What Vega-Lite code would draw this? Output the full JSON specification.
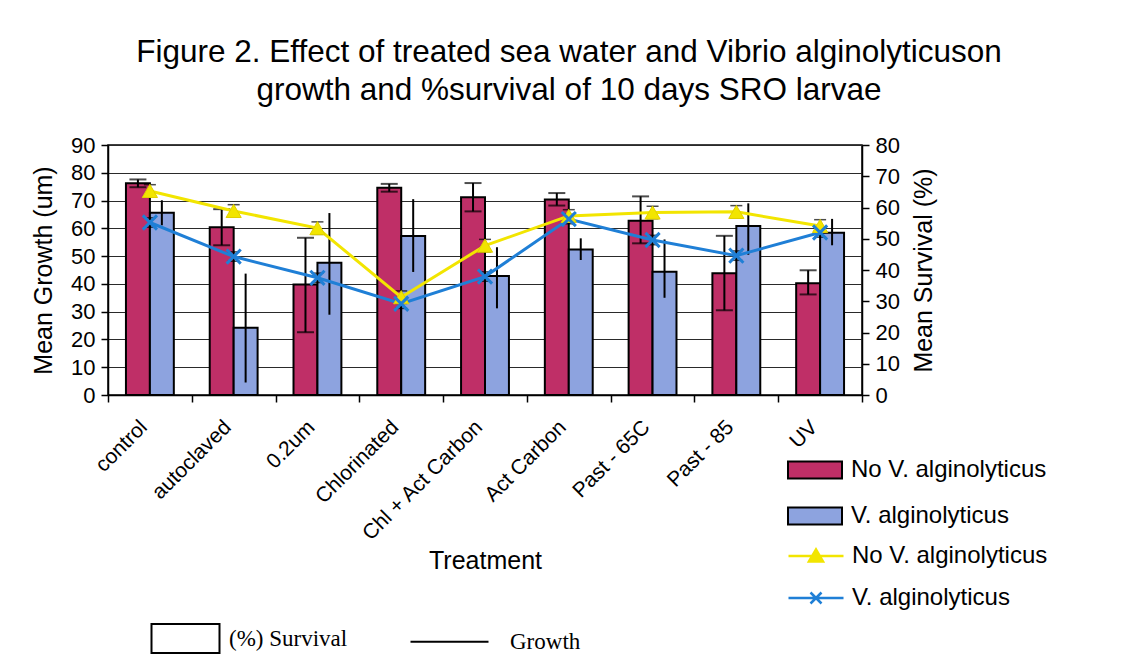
{
  "$schema": "https://vega.github.io/schema/vega-lite/v6.json",
  "width": 754,
  "height": 250,
  "autosize": {"type": "none"},
  "padding": {"left": 108, "top": 145, "right": 264, "bottom": 274},
  "background": "white",
  "title": {
    "text": ["Figure 2.  Effect of treated sea water and Vibrio alginolyticuson", "growth and %survival of 10 days SRO larvae"],
    "fontSize": 31.5,
    "fontWeight": "normal",
    "color": "black",
    "anchor": "middle",
    "dx": 84,
    "lineHeight": 38,
    "offset": 28
  },
  "datasets": {
    "bars": [
      {"treatment": "control", "cond": "No V. alginolyticus", "value": 76.2, "lo": 74.8, "hi": 77.6},
      {"treatment": "control", "cond": "V. alginolyticus", "value": 65.6, "lo": 61.1, "hi": 70.1},
      {"treatment": "autoclaved", "cond": "No V. alginolyticus", "value": 60.4, "lo": 53.9, "hi": 66.9},
      {"treatment": "autoclaved", "cond": "V. alginolyticus", "value": 24.2, "lo": 4.5, "hi": 43.7},
      {"treatment": "0.2um", "cond": "No V. alginolyticus", "value": 39.8, "lo": 22.6, "hi": 56.6},
      {"treatment": "0.2um", "cond": "V. alginolyticus", "value": 47.6, "lo": 28.9, "hi": 65.5},
      {"treatment": "Chlorinated", "cond": "No V. alginolyticus", "value": 74.6, "lo": 73.2, "hi": 76.0},
      {"treatment": "Chlorinated", "cond": "V. alginolyticus", "value": 57.2, "lo": 44.3, "hi": 70.5},
      {"treatment": "Chl + Act Carbon", "cond": "No V. alginolyticus", "value": 71.2, "lo": 66.1, "hi": 76.3},
      {"treatment": "Chl + Act Carbon", "cond": "V. alginolyticus", "value": 42.8, "lo": 31.2, "hi": 53.2},
      {"treatment": "Act Carbon", "cond": "No V. alginolyticus", "value": 70.4, "lo": 68.2, "hi": 72.7},
      {"treatment": "Act Carbon", "cond": "V. alginolyticus", "value": 52.4, "lo": 48.6, "hi": 56.4},
      {"treatment": "Past - 65C", "cond": "No V. alginolyticus", "value": 62.7, "lo": 54.6, "hi": 71.5},
      {"treatment": "Past - 65C", "cond": "V. alginolyticus", "value": 44.4, "lo": 35.0, "hi": 56.0},
      {"treatment": "Past - 85", "cond": "No V. alginolyticus", "value": 43.8, "lo": 30.5, "hi": 57.3},
      {"treatment": "Past - 85", "cond": "V. alginolyticus", "value": 60.8, "lo": 50.5, "hi": 69.0},
      {"treatment": "UV", "cond": "No V. alginolyticus", "value": 40.2, "lo": 36.2, "hi": 44.9},
      {"treatment": "UV", "cond": "V. alginolyticus", "value": 58.4, "lo": 53.9, "hi": 63.4}
    ],
    "lines": [
      {"treatment": "control", "series": "No V. alginolyticus", "value": 65.3, "lo": 63.3, "hi": 67.3},
      {"treatment": "autoclaved", "series": "No V. alginolyticus", "value": 58.9, "lo": 56.9, "hi": 60.9},
      {"treatment": "0.2um", "series": "No V. alginolyticus", "value": 53.4, "lo": 51.4, "hi": 55.4},
      {"treatment": "Chlorinated", "series": "No V. alginolyticus", "value": 31.3, "lo": 29.3, "hi": 33.3},
      {"treatment": "Chl + Act Carbon", "series": "No V. alginolyticus", "value": 47.8, "lo": 45.8, "hi": 49.8},
      {"treatment": "Act Carbon", "series": "No V. alginolyticus", "value": 57.3, "lo": 55.3, "hi": 59.3},
      {"treatment": "Past - 65C", "series": "No V. alginolyticus", "value": 58.4, "lo": 56.4, "hi": 60.4},
      {"treatment": "Past - 85", "series": "No V. alginolyticus", "value": 58.6, "lo": 56.6, "hi": 60.6},
      {"treatment": "UV", "series": "No V. alginolyticus", "value": 54.1, "lo": 52.1, "hi": 56.1},
      {"treatment": "control", "series": "V. alginolyticus", "value": 55.2, "lo": 53.7, "hi": 56.7},
      {"treatment": "autoclaved", "series": "V. alginolyticus", "value": 44.3, "lo": 42.8, "hi": 45.8},
      {"treatment": "0.2um", "series": "V. alginolyticus", "value": 37.5, "lo": 36.0, "hi": 39.0},
      {"treatment": "Chlorinated", "series": "V. alginolyticus", "value": 29.2, "lo": 27.7, "hi": 30.7},
      {"treatment": "Chl + Act Carbon", "series": "V. alginolyticus", "value": 37.9, "lo": 36.4, "hi": 39.4},
      {"treatment": "Act Carbon", "series": "V. alginolyticus", "value": 56.3, "lo": 54.8, "hi": 57.8},
      {"treatment": "Past - 65C", "series": "V. alginolyticus", "value": 49.6, "lo": 48.1, "hi": 51.1},
      {"treatment": "Past - 85", "series": "V. alginolyticus", "value": 44.6, "lo": 43.1, "hi": 46.1},
      {"treatment": "UV", "series": "V. alginolyticus", "value": 52.0, "lo": 50.5, "hi": 53.5}
    ],
    "linekeys": [
      {"series": "No V. alginolyticus"},
      {"series": "V. alginolyticus"}
    ],
    "notes": [
      {"note": "(%) Survival"},
      {"note": "Growth"}
    ]
  },
  "layer": [
    {
      "data": {"name": "bars"},
      "layer": [
        {
          "mark": {"type": "bar", "stroke": "black", "strokeWidth": 2},
          "encoding": {
            "x": {"field": "treatment", "type": "nominal", "sort": null,
                  "scale": {"domain": ["control", "autoclaved", "0.2um", "Chlorinated", "Chl + Act Carbon", "Act Carbon", "Past - 65C", "Past - 85", "UV"], "paddingInner": 0, "paddingOuter": 0},
                  "title": "Treatment"},
            "xOffset": {"field": "cond", "type": "nominal", "scale": {"domain": ["No V. alginolyticus", "V. alginolyticus"], "paddingInner": 0, "paddingOuter": 0.75}},
            "y": {"field": "value", "type": "quantitative", "scale": {"domain": [0, 90], "nice": false},
                  "axis": {"orient": "left", "title": "Mean Growth (um)", "values": [0, 10, 20, 30, 40, 50, 60, 70, 80, 90], "tickCount": 20, "labelOverlap": false, "grid": true, "gridColor": "#2a2a2a", "gridWidth": 1.2}},
            "fill": {"field": "cond", "type": "nominal",
                     "scale": {"range": ["#bf2f67", "#8da3df"]},
                     "legend": {"title": null, "orient": "none", "legendX": 695, "legendY": 313,
                                "symbolType": "M-2.7,-0.85H2.7V0.85H-2.7Z", "symbolSize": 400,
                                "symbolStrokeColor": "black", "symbolStrokeWidth": 2, "labelLimit": 400,
                                "labelOffset": 24, "rowPadding": 20, "labelFontSize": 24, "labelColor": "black"}}
          }
        },
        {
          "mark": {"type": "rule", "color": "black", "strokeWidth": 2},
          "encoding": {
            "x": {"field": "treatment", "type": "nominal", "sort": null},
            "xOffset": {"field": "cond", "type": "nominal"},
            "y": {"field": "lo", "type": "quantitative",
                  "axis": {"orient": "left", "title": "Mean Growth (um)", "values": [0, 10, 20, 30, 40, 50, 60, 70, 80, 90], "tickCount": 20, "labelOverlap": false, "grid": true, "gridColor": "#2a2a2a", "gridWidth": 1.2}},
            "y2": {"field": "hi"}
          }
        },
        {
          "transform": [{"filter": {"field": "cond", "equal": "No V. alginolyticus"}}],
          "mark": {"type": "tick", "color": "black", "thickness": 2, "size": 17},
          "encoding": {
            "x": {"field": "treatment", "type": "nominal", "sort": null},
            "xOffset": {"field": "cond", "type": "nominal"},
            "y": {"field": "lo", "type": "quantitative",
                  "axis": {"orient": "left", "title": "Mean Growth (um)", "values": [0, 10, 20, 30, 40, 50, 60, 70, 80, 90], "tickCount": 20, "labelOverlap": false, "grid": true, "gridColor": "#2a2a2a", "gridWidth": 1.2}}
          }
        },
        {
          "transform": [{"filter": {"field": "cond", "equal": "No V. alginolyticus"}}],
          "mark": {"type": "tick", "color": "black", "thickness": 2, "size": 17},
          "encoding": {
            "x": {"field": "treatment", "type": "nominal", "sort": null},
            "xOffset": {"field": "cond", "type": "nominal"},
            "y": {"field": "hi", "type": "quantitative",
                  "axis": {"orient": "left", "title": "Mean Growth (um)", "values": [0, 10, 20, 30, 40, 50, 60, 70, 80, 90], "tickCount": 20, "labelOverlap": false, "grid": true, "gridColor": "#2a2a2a", "gridWidth": 1.2}}
          }
        }
      ]
    },
    {
      "data": {"name": "lines"},
      "layer": [
        {
          "mark": {"type": "rule", "color": "black", "strokeWidth": 1.5},
          "encoding": {
            "x": {"field": "treatment", "type": "nominal", "sort": null},
            "y": {"field": "lo", "type": "quantitative", "scale": {"domain": [0, 80], "nice": false},
                  "axis": {"orient": "right", "title": "Mean Survival (%)", "values": [0, 10, 20, 30, 40, 50, 60, 70, 80], "tickCount": 20, "labelOverlap": false, "grid": false, "titleAngle": 270, "titleBaseline": "top"}},
            "y2": {"field": "hi"}
          }
        },
        {
          "mark": {"type": "tick", "color": "black", "thickness": 1.5, "size": 12},
          "encoding": {
            "x": {"field": "treatment", "type": "nominal", "sort": null},
            "y": {"field": "lo", "type": "quantitative",
                  "axis": {"orient": "right", "title": "Mean Survival (%)", "values": [0, 10, 20, 30, 40, 50, 60, 70, 80], "tickCount": 20, "labelOverlap": false, "grid": false, "titleAngle": 270, "titleBaseline": "top"}}
          }
        },
        {
          "mark": {"type": "tick", "color": "black", "thickness": 1.5, "size": 12},
          "encoding": {
            "x": {"field": "treatment", "type": "nominal", "sort": null},
            "y": {"field": "hi", "type": "quantitative",
                  "axis": {"orient": "right", "title": "Mean Survival (%)", "values": [0, 10, 20, 30, 40, 50, 60, 70, 80], "tickCount": 20, "labelOverlap": false, "grid": false, "titleAngle": 270, "titleBaseline": "top"}}
          }
        },
        {
          "mark": {"type": "line", "strokeWidth": 3},
          "encoding": {
            "x": {"field": "treatment", "type": "nominal", "sort": null},
            "y": {"field": "value", "type": "quantitative",
                  "axis": {"orient": "right", "title": "Mean Survival (%)", "values": [0, 10, 20, 30, 40, 50, 60, 70, 80], "tickCount": 20, "labelOverlap": false, "grid": false, "titleAngle": 270, "titleBaseline": "top"}},
            "stroke": {"field": "series", "type": "nominal",
                       "scale": {"domain": ["No V. alginolyticus", "V. alginolyticus"], "range": ["#f2e500", "#1f7fd6"]},
                       "legend": null}
          }
        },
        {
          "transform": [{"filter": {"field": "series", "equal": "No V. alginolyticus"}}],
          "mark": {"type": "point", "shape": "triangle-up", "filled": true, "fill": "#f2e500", "stroke": "#e0d000", "strokeWidth": 1, "size": 230, "opacity": 1},
          "encoding": {
            "x": {"field": "treatment", "type": "nominal", "sort": null},
            "y": {"field": "value", "type": "quantitative",
                  "axis": {"orient": "right", "title": "Mean Survival (%)", "values": [0, 10, 20, 30, 40, 50, 60, 70, 80], "tickCount": 20, "labelOverlap": false, "grid": false, "titleAngle": 270, "titleBaseline": "top"}}
          }
        },
        {
          "transform": [{"filter": {"field": "series", "equal": "V. alginolyticus"}}],
          "mark": {"type": "point", "shape": "M-1,-1L1,1M-1,1L1,-1", "filled": false, "stroke": "#1f7fd6", "strokeWidth": 3, "size": 200, "opacity": 1},
          "encoding": {
            "x": {"field": "treatment", "type": "nominal", "sort": null},
            "y": {"field": "value", "type": "quantitative",
                  "axis": {"orient": "right", "title": "Mean Survival (%)", "values": [0, 10, 20, 30, 40, 50, 60, 70, 80], "tickCount": 20, "labelOverlap": false, "grid": false, "titleAngle": 270, "titleBaseline": "top"}}
          }
        }
      ]
    },
    {
      "data": {"name": "linekeys"},
      "mark": {"type": "point", "filled": true, "fill": "#f2e500", "opacity": 0, "size": 400},
      "encoding": {
        "stroke": {"field": "series", "type": "nominal",
                   "scale": {"domain": ["No V. alginolyticus", "V. alginolyticus"], "range": ["#f2e500", "#1f7fd6"]},
                   "legend": {"title": null, "orient": "none", "legendX": 696, "legendY": 399,
                              "symbolSize": 400, "symbolStrokeWidth": 2.5, "symbolFillColor": "#f2e500",
                              "symbolOpacity": 1, "labelOffset": 24, "rowPadding": 18, "labelLimit": 400, "labelFontSize": 24, "labelColor": "black"}},
        "shape": {"field": "series", "type": "nominal",
                  "scale": {"domain": ["No V. alginolyticus", "V. alginolyticus"], "range": ["M-2.75,0H2.75M-0.7,0.55L0,-0.65L0.7,0.55Z", "M-2.75,0H2.75M-0.55,-0.55L0.55,0.55M-0.55,0.55L0.55,-0.55"]},
                  "legend": {"title": null, "orient": "none", "legendX": 696, "legendY": 399,
                             "symbolSize": 400, "symbolStrokeWidth": 2.5, "symbolFillColor": "#f2e500",
                             "symbolOpacity": 1, "labelOffset": 24, "rowPadding": 18, "labelLimit": 400, "labelFontSize": 24, "labelColor": "black"}}
      }
    },
    {
      "data": {"name": "notes"},
      "mark": {"type": "point", "filled": false, "stroke": "black", "opacity": 0, "size": 400},
      "encoding": {
        "shape": {"field": "note", "type": "nominal",
                  "scale": {"domain": ["(%) Survival", "Growth"], "range": ["M-3.4,-1.45H3.4V1.45H-3.4Z", "M-5.6,0H2.2"]},
                  "legend": {"title": null, "orient": "none", "direction": "horizontal", "legendX": 66, "legendY": 482,
                             "symbolSize": 400, "symbolStrokeColor": "black", "symbolStrokeWidth": 2,
                             "symbolFillColor": "white", "symbolOpacity": 1, "labelOffset": 32, "columnPadding": 58,
                             "labelFont": "Liberation Serif", "labelFontSize": 23, "labelColor": "black"}}
      }
    }
  ],
  "resolve": {"scale": {"y": "independent", "shape": "independent", "stroke": "independent"}},
  "config": {
    "font": "Liberation Sans",
    "view": {"fill": "#d3d3d3", "stroke": "black", "strokeWidth": 1.5},
    "axis": {"domainColor": "black", "domainWidth": 1.5, "tickColor": "black", "tickWidth": 1.5, "tickSize": 7,
             "labelColor": "black", "labelFontSize": 22, "titleColor": "black", "titleFontSize": 25, "titleFontWeight": "normal"},
    "axisX": {"labelAngle": -45, "tickBand": "extent", "labelFontSize": 21, "labelPadding": 14, "labelOffset": -14, "titlePadding": 4},
    "axisLeft": {"labelPadding": 6, "titlePadding": 14},
    "axisRight": {"labelPadding": 6, "titlePadding": 12},
    "legend": {"labelFont": "Liberation Sans"}
  }
}
